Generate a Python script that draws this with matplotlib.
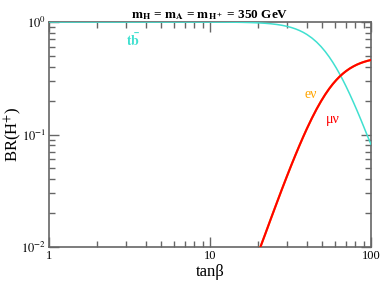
import numpy as np
import matplotlib
matplotlib.use("Agg")
import matplotlib.pyplot as plt
from matplotlib.ticker import LogLocator, FixedLocator, FixedFormatter, NullFormatter

plt.rcParams['font.family'] = ['Liberation Serif', 'DejaVu Serif']
plt.rcParams['mathtext.fontset'] = 'stix'

# values (tan beta, branching ratio)
tan_tb = [1, 10, 12, 14, 16, 18, 20, 22, 24, 26, 28, 30, 32, 34, 36, 38, 40,
          43, 46, 49, 52, 55, 58, 61, 64, 67, 70, 74, 78, 82, 86, 90, 95, 100]
br_tb = [1.0, 0.9989, 0.9977, 0.9957, 0.9927, 0.9882, 0.9822, 0.9741, 0.9637,
         0.9507, 0.9348, 0.9159, 0.8937, 0.8684, 0.8400, 0.8088, 0.7750,
         0.7205, 0.6632, 0.6046, 0.5467, 0.4907, 0.4379, 0.3890, 0.3445,
         0.3044, 0.2686, 0.2272, 0.1923, 0.1632, 0.1388, 0.1184, 0.0977, 0.082]

tan_lep = [20, 21, 22, 24, 26, 28, 30, 32, 34, 36, 38, 40, 43, 46, 49, 52,
           55, 58, 61, 64, 67, 70, 74, 78, 82, 86, 90, 95, 100]
br_munu = [0.0089, 0.0108, 0.0129, 0.0181, 0.0246, 0.0326, 0.0421, 0.0532,
           0.0658, 0.0800, 0.0956, 0.1125, 0.1397, 0.1684, 0.1977, 0.2267,
           0.2547, 0.2811, 0.3055, 0.3278, 0.3478, 0.3657, 0.3865, 0.4038,
           0.4185, 0.4306, 0.4408, 0.4512, 0.4595]
br_enu = br_munu  # same as mu nu, hidden under the red curve

fig = plt.figure(figsize=(3.82, 2.82), dpi=100)
ax = fig.add_axes([0.128, 0.124, 0.843, 0.798])

ax.plot(tan_tb, br_tb, color='#40E0D0', lw=1.1, zorder=3)
ax.plot(tan_lep, br_enu, color='#FFA500', lw=1.5, zorder=3)
ax.plot(tan_lep, br_munu, color='#FF0000', lw=1.5, zorder=4)

ax.set_xscale('log')
ax.set_yscale('log')
ax.set_xlim(1, 100)
ax.set_ylim(0.01, 1)

ax.xaxis.set_major_locator(FixedLocator([1, 10, 100]))
ax.xaxis.set_major_formatter(FixedFormatter(['1', '10', '100']))
ax.xaxis.set_minor_locator(LogLocator(base=10, subs=np.arange(2, 10)))
ax.xaxis.set_minor_formatter(NullFormatter())
ax.yaxis.set_major_locator(FixedLocator([0.01, 0.1, 1]))
ax.yaxis.set_major_formatter(FixedFormatter([r'$10^{-2}$', r'$10^{-1}$', r'$10^{0}$']))
ax.yaxis.set_minor_locator(LogLocator(base=10, subs=np.arange(2, 10)))
ax.yaxis.set_minor_formatter(NullFormatter())

ax.tick_params(which='both', direction='in', top=True, right=True, color='#666666', width=1.0)
ax.tick_params(which='major', length=7, labelsize=9, pad=2)
ax.tick_params(which='minor', length=4)
for s in ax.spines.values():
    s.set_color('#666666')
    s.set_linewidth(1.2)

ax.set_xlabel('tanβ', fontsize=12, va='center')
ax.xaxis.set_label_coords(0.5, -0.11)
ax.set_ylabel(r'BR(H$^{+}$)', fontsize=12, va='center')
ax.yaxis.set_label_coords(-0.112, 0.5)
ax.set_title(r'$\mathbf{m_H}$ = $\mathbf{m_A}$ = $\mathbf{m_{H^+}}$ = 350 GeV',
             fontsize=9.5, fontweight='bold', pad=3)

ax.text(3.32, 0.69, r'$\mathbf{t\bar{b}}$', color='#40E0D0', fontsize=10,
        ha='center', va='center')
ax.text(42.4, 0.229, 'eν', color='#FFA500', fontsize=10, ha='center', va='center')
ax.text(57.7, 0.137, 'μν', color='#FF0000', fontsize=10, ha='center', va='center')

fig.savefig('out.png', dpi=100)
